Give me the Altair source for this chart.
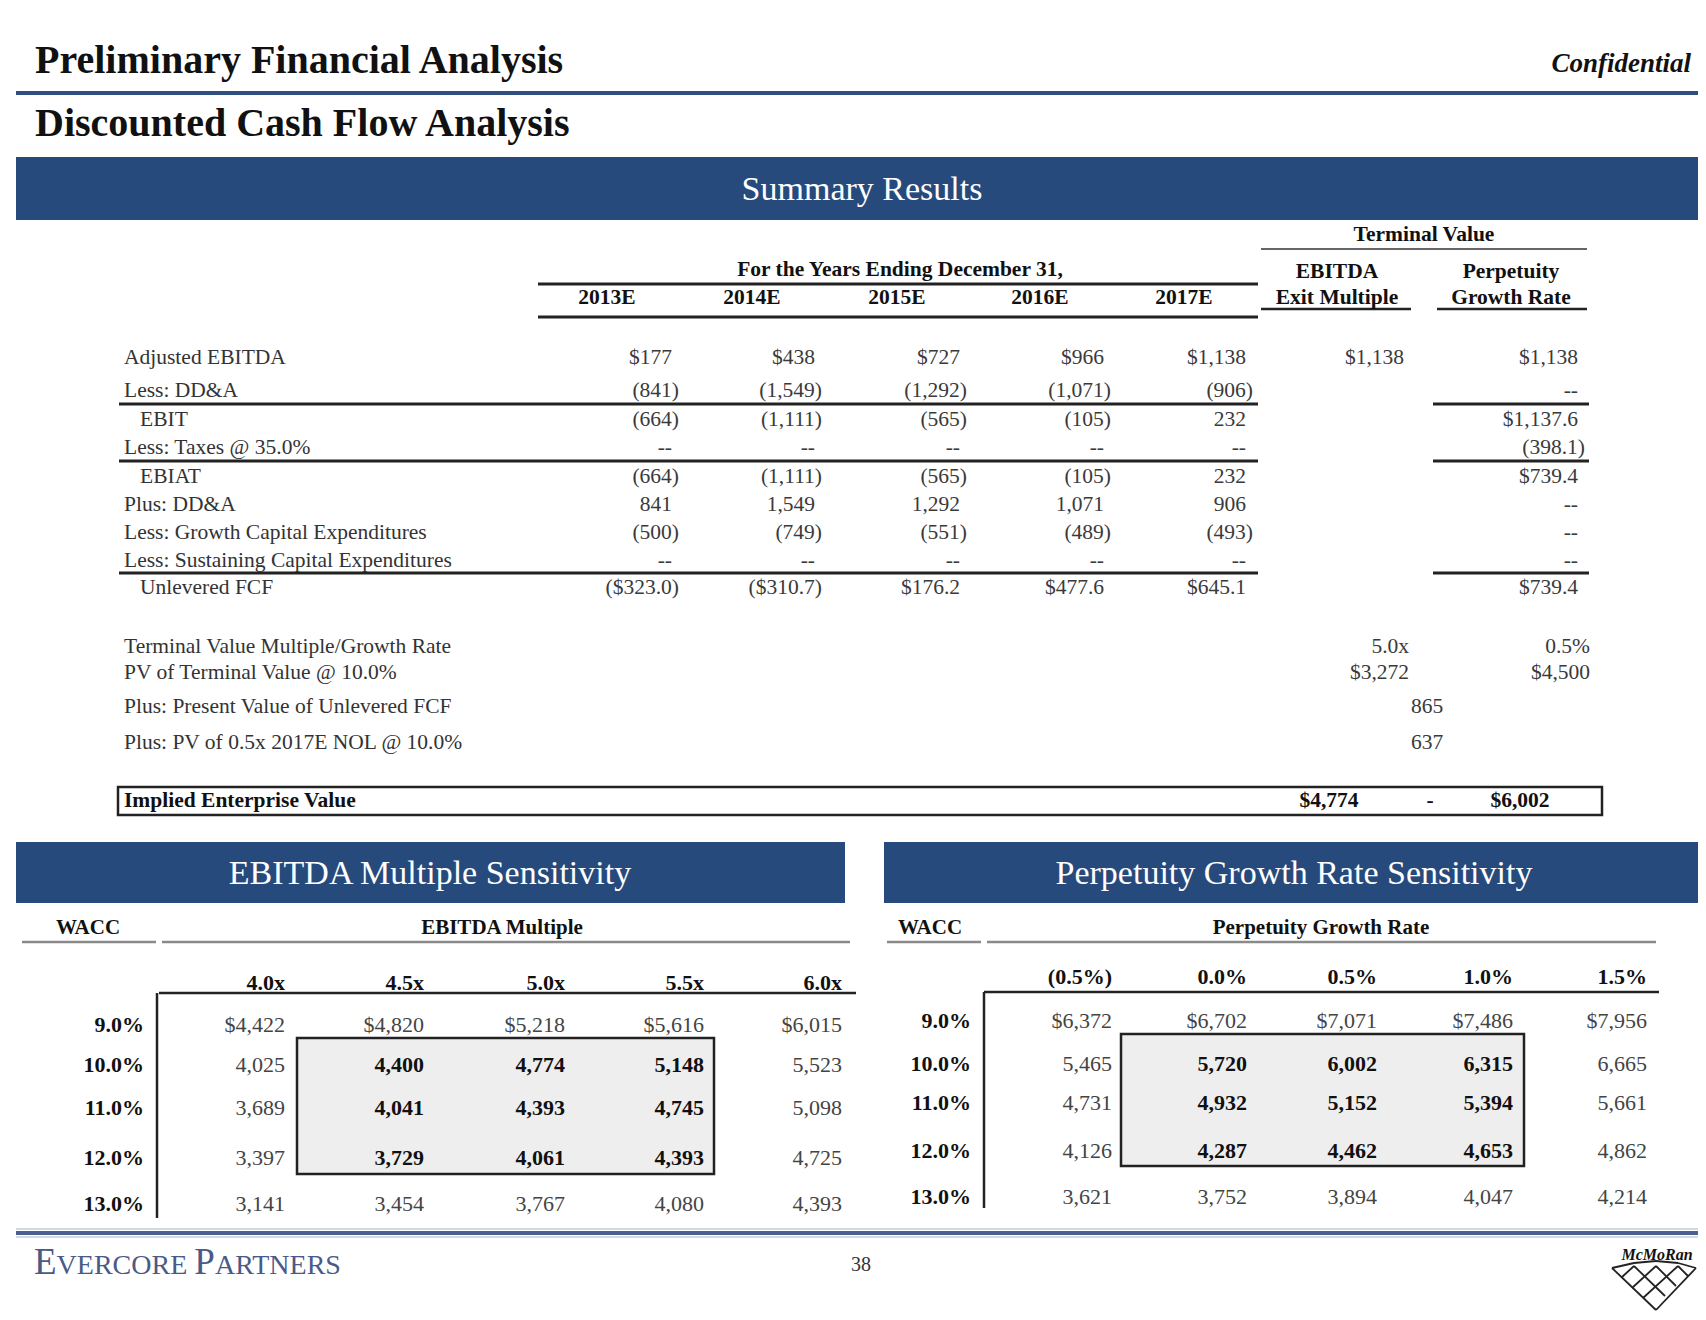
import altair as alt
import pandas as pd

# ---------------- DATA ----------------
title_main = "Preliminary Financial Analysis"
title_sub = "Discounted Cash Flow Analysis"
confidential = "Confidential"
banner_top = "Summary Results"
years_header = "For the Years Ending December 31,"
years = ["2013E", "2014E", "2015E", "2016E", "2017E"]
tv_header = "Terminal Value"
tv_exit_header = ["EBITDA", "Exit Multiple"]
tv_perp_header = ["Perpetuity", "Growth Rate"]

row_labels = ["Adjusted EBITDA", "Less: DD&A", "EBIT", "Less: Taxes @ 35.0%", "EBIAT",
              "Plus: DD&A", "Less: Growth Capital Expenditures",
              "Less: Sustaining Capital Expenditures", "Unlevered FCF"]
row_indent = [0, 0, 1, 0, 1, 0, 0, 0, 1]
v2013 = ["$177", "(841)", "(664)", "--", "(664)", "841", "(500)", "--", "($323.0)"]
v2014 = ["$438", "(1,549)", "(1,111)", "--", "(1,111)", "1,549", "(749)", "--", "($310.7)"]
v2015 = ["$727", "(1,292)", "(565)", "--", "(565)", "1,292", "(551)", "--", "$176.2"]
v2016 = ["$966", "(1,071)", "(105)", "--", "(105)", "1,071", "(489)", "--", "$477.6"]
v2017 = ["$1,138", "(906)", "232", "--", "232", "906", "(493)", "--", "$645.1"]
tv_exit = ["$1,138", "", "", "", "", "", "", "", ""]
tv_perp = ["$1,138", "--", "$1,137.6", "(398.1)", "$739.4", "--", "--", "--", "$739.4"]

lower_labels = ["Terminal Value Multiple/Growth Rate", "PV of Terminal Value @ 10.0%",
                "Plus: Present Value of Unlevered FCF", "Plus: PV of 0.5x 2017E NOL @ 10.0%"]
lower_exit = ["5.0x", "$3,272"]
lower_perp = ["0.5%", "$4,500"]
lower_shared = ["865", "637"]
ev_label = "Implied Enterprise Value"
ev_range = ["$4,774", "-", "$6,002"]

sens_left_title = "EBITDA Multiple Sensitivity"
sens_right_title = "Perpetuity Growth Rate Sensitivity"
wacc = ["9.0%", "10.0%", "11.0%", "12.0%", "13.0%"]
multiples = ["4.0x", "4.5x", "5.0x", "5.5x", "6.0x"]
ev_by_multiple = [
    ["$4,422", "$4,820", "$5,218", "$5,616", "$6,015"],
    ["4,025", "4,400", "4,774", "5,148", "5,523"],
    ["3,689", "4,041", "4,393", "4,745", "5,098"],
    ["3,397", "3,729", "4,061", "4,393", "4,725"],
    ["3,141", "3,454", "3,767", "4,080", "4,393"],
]
growth_rates = ["(0.5%)", "0.0%", "0.5%", "1.0%", "1.5%"]
ev_by_growth = [
    ["$6,372", "$6,702", "$7,071", "$7,486", "$7,956"],
    ["5,465", "5,720", "6,002", "6,315", "6,665"],
    ["4,731", "4,932", "5,152", "5,394", "5,661"],
    ["4,126", "4,287", "4,462", "4,653", "4,862"],
    ["3,621", "3,752", "3,894", "4,047", "4,214"],
]
footer_page = "38"
logo_text = "McMoRan"

# ---------------- LAYOUT / STYLE ----------------
NAVY = "#274a7d"
INK = "#333333"
BLACK = "#111111"
FONT = "Liberation Serif"
FS = 21.5
FS2 = 22

texts, rects, rules = [], [], []


def T(x, y, s, fs=FS, weight="normal", align="left", color=INK, style="normal", baseline="middle"):
    texts.append(dict(x=x, y=y, text=s, fs=fs, weight=weight, align=align,
                      color=color, style=style, baseline=baseline))


def R(x, x2, y, y2, fill, stroke="transparent", sw=0):
    rects.append(dict(x=x, x2=x2, y=y, y2=y2, fill=fill, stroke=stroke, sw=sw))


def L(x, x2, y, y2, color="#222222", sw=2):
    rules.append(dict(x=x, x2=x2, y=y, y2=y2, color=color, sw=sw))


# header
T(35, 61, title_main, 40, "bold", color=BLACK)
L(16, 1706, 93, 93, "#2f4f80", 4)
T(1691, 64, confidential, 27, "bold", "right", BLACK, "italic")
T(35, 124, title_sub, 40, "bold", color=BLACK)
R(16, 1706, 157, 220, NAVY)
T(862, 190, banner_top, 34, "normal", "center", "white")

# summary table header
T(1424, 235, tv_header, FS, "bold", "center", BLACK)
L(1261, 1587, 249, 249, "#666666", 2)
T(900, 270, years_header, FS, "bold", "center", BLACK)
L(538, 1258, 284, 284, "#222222", 3)
L(538, 1258, 317, 317, "#222222", 3)
year_centers = [607, 752, 897, 1040, 1184]
for cx, yl in zip(year_centers, years):
    T(cx, 298, yl, FS, "bold", "center", BLACK)
for i, s in enumerate(tv_exit_header):
    T(1337, 272 + 26 * i, s, FS, "bold", "center", BLACK)
L(1261, 1411, 309, 309, "#222222", 2.5)
for i, s in enumerate(tv_perp_header):
    T(1511, 272 + 26 * i, s, FS, "bold", "center", BLACK)
L(1437, 1587, 309, 309, "#222222", 2.5)

# summary rows
row_y = [358, 391, 420, 448, 477, 505, 533, 561, 588]
PAREN = 7
col_right = [679, 822, 967, 1111, 1253, 1411, 1585]
columns = [v2013, v2014, v2015, v2016, v2017, tv_exit, tv_perp]
for i, lab in enumerate(row_labels):
    T(124 + 16 * row_indent[i], row_y[i], lab)
    for cr, col in zip(col_right, columns):
        s = col[i]
        if not s:
            continue
        x = cr if s.endswith(")") else cr - PAREN
        T(x, row_y[i], s, align="right", color="#3a3a3a")
for ly in [404, 461, 573]:
    L(119, 1258, ly, ly, "#222222", 3)
    L(1433, 1589, ly, ly, "#222222", 3)

# lower block
lower_y = [647, 673, 707, 743]
for lab, yy in zip(lower_labels, lower_y):
    T(124, yy, lab)
for i in range(2):
    T(1409, lower_y[i], lower_exit[i], align="right", color="#3a3a3a")
    T(1590, lower_y[i], lower_perp[i], align="right", color="#3a3a3a")
    T(1427, lower_y[2 + i], lower_shared[i], align="center", color="#3a3a3a")
R(118, 1602, 787, 815, "transparent", "#222222", 2.5)
T(124, 801, ev_label, FS, "bold", color=BLACK)
for cx, s in zip([1329, 1430, 1520], ev_range):
    T(cx, 801, s, FS, "bold", "center", BLACK)

# sensitivity banners
R(16, 845, 842, 903, NAVY)
T(430, 874, sens_left_title, 34, "normal", "center", "white")
R(884, 1706, 842, 903, NAVY)
T(1294, 874, sens_right_title, 34, "normal", "center", "white")


def sensitivity(wacc_c, wacc_ul, head_c, head_ul, head_txt, col_labels, col_x, col_y,
                hline, vline_x, vline_bottom, label_x, rows_y, grid, box):
    T(wacc_c, 928, "WACC", FS2 - 1, "bold", "center", BLACK)
    L(wacc_ul[0], wacc_ul[1], 942, 942, "#8a8a8a", 2.5)
    T(head_c, 928, head_txt, FS2 - 1, "bold", "center", BLACK)
    L(head_ul[0], head_ul[1], 942, 942, "#8a8a8a", 2.5)
    R(box[0], box[1], box[2], box[3], "#eeeeee", "#222222", 2.5)
    for cx, s in zip(col_x, col_labels):
        T(cx, col_y, s, FS2, "bold", "right", BLACK)
    L(hline[0], hline[1], hline[2], hline[2], "#222222", 2.5)
    L(vline_x, vline_x, hline[2], vline_bottom, "#222222", 2.5)
    for r, (w, ry) in enumerate(zip(wacc, rows_y)):
        T(label_x, ry, w, FS2, "bold", "right", BLACK)
        for c, cx in enumerate(col_x):
            inside = 1 <= r <= 3 and 1 <= c <= 3
            T(cx, ry, grid[r][c], FS2, "bold" if inside else "normal", "right",
              BLACK if inside else "#444444")


sensitivity(88, (22, 156), 502, (162, 850), "EBITDA Multiple", multiples,
            [285, 424, 565, 704, 842], 983, (159, 856, 993), 157, 1218, 144,
            [1025, 1065, 1108, 1158, 1204], ev_by_multiple, (297, 714, 1038, 1174))
sensitivity(930, (887, 981), 1321, (987, 1656), "Perpetuity Growth Rate", growth_rates,
            [1112, 1247, 1377, 1513, 1647], 977, (984, 1659, 992), 984, 1208, 971,
            [1021, 1064, 1103, 1151, 1197], ev_by_growth, (1121, 1524, 1034, 1166))

# footer
L(16, 1706, 1229, 1229, "#c3cbe0", 1.5)
L(16, 1706, 1233, 1233, "#4d5f8f", 4)
L(16, 1706, 1237, 1237, "#c3cbe0", 1.5)
EVC = "#4a5a88"
for x, s, fs in [(34, "E", 37), (56.6, "VERCORE", 28), (194.3, "P", 37), (215, "ARTNERS", 28)]:
    T(x, 1274, s, fs, "normal", "left", EVC, baseline="alphabetic")
T(861, 1265, footer_page, 20, "normal", "center", INK)

# McMoRan logo (decorative)
T(1657, 1255, logo_text, 16, "bold", "center", BLACK, "italic")
logo = [(1612, 1656, 1268, 1310), (1696, 1656, 1268, 1310),
        (1612, 1634, 1268, 1263), (1634, 1656, 1263, 1261), (1656, 1678, 1261, 1263), (1678, 1696, 1263, 1268),
        (1634, 1665, 1266, 1296), (1656, 1676, 1266, 1286), (1678, 1688, 1266, 1276),
        (1634, 1622, 1266, 1277), (1656, 1632, 1266, 1288), (1678, 1643, 1266, 1298)]
for a, b, c, d in logo:
    L(a, b, c, d, "#222222", 1.8)

# ---------------- CHART ----------------
xs = alt.Scale(domain=[8, 1698], nice=False, zero=False)
ys = alt.Scale(domain=[8, 1312], nice=False, zero=False, reverse=True)

rect_df = pd.DataFrame(rects)
rule_df = pd.DataFrame(rules)
text_df = pd.DataFrame(texts)

rect_layer = alt.Chart(rect_df).mark_rect().encode(
    x=alt.X("x:Q", scale=xs, axis=None), x2="x2:Q",
    y=alt.Y("y:Q", scale=ys, axis=None), y2="y2:Q",
    fill=alt.Fill("fill:N", scale=None, legend=None),
    stroke=alt.Stroke("stroke:N", scale=None, legend=None),
    strokeWidth=alt.StrokeWidth("sw:Q", scale=None, legend=None),
)
rule_layer = alt.Chart(rule_df).mark_rule().encode(
    x=alt.X("x:Q", scale=xs, axis=None), x2="x2:Q",
    y=alt.Y("y:Q", scale=ys, axis=None), y2="y2:Q",
    color=alt.Color("color:N", scale=None, legend=None),
    strokeWidth=alt.StrokeWidth("sw:Q", scale=None, legend=None),
)

layers = [rect_layer, rule_layer]
for (w, a, st, b), g in text_df.groupby(["weight", "align", "style", "baseline"]):
    layers.append(
        alt.Chart(g.reset_index(drop=True)).mark_text(
            font=FONT, fontWeight=w, align=a, fontStyle=st, baseline=b
        ).encode(
            x=alt.X("x:Q", scale=xs, axis=None),
            y=alt.Y("y:Q", scale=ys, axis=None),
            text="text:N",
            size=alt.Size("fs:Q", scale=None, legend=None),
            color=alt.Color("color:N", scale=None, legend=None),
        )
    )

chart = alt.layer(*layers).properties(
    width=1690, height=1304, padding=0, background="white",
    autosize=alt.AutoSizeParams(type="none"),
).configure_view(strokeWidth=0)

chart.save("out.html", embed_options={"renderer": "svg", "actions": False})
